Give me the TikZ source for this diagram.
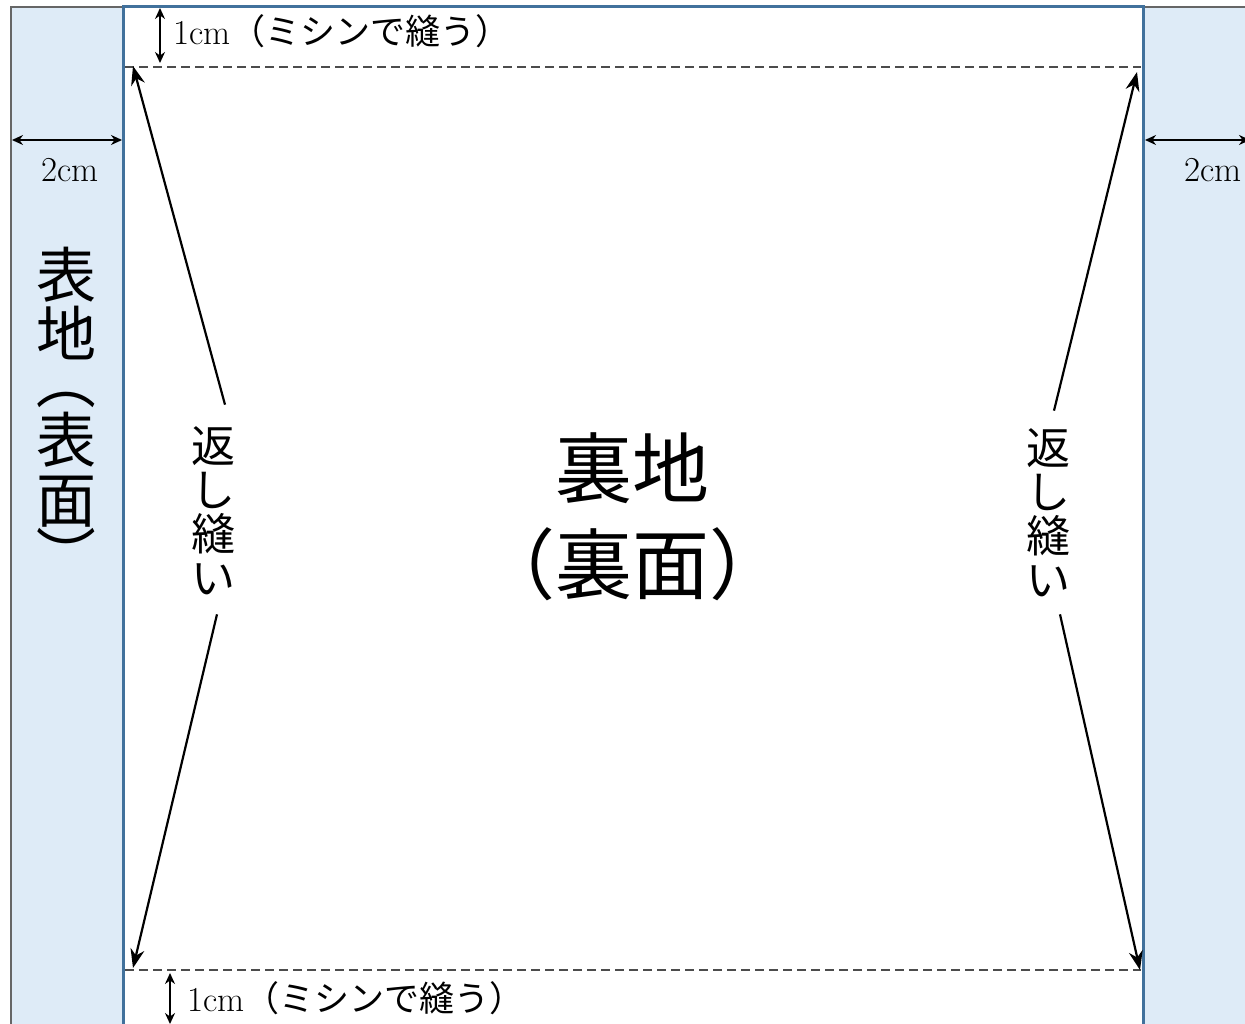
\documentclass[tikz,border=0pt]{standalone}
\usepackage{fontspec}
\newfontfamily\jpfont{Noto Sans CJK JP}
\usetikzlibrary{arrows.meta,positioning}
\definecolor{stripblue}{RGB}{222,235,247}
\definecolor{edgeblue}{RGB}{65,113,156}

\begin{document}
\begin{tikzpicture}[x=1pt,y=-1pt,
	dim/.style={{Stealth[length=11pt,width=10pt]}-{Stealth[length=11pt,width=10pt]},line width=1.8pt},
	seam/.style={-{Stealth[length=19pt,width=14pt]},line width=2.2pt},
	stitch/.style={dash pattern=on 9pt off 5pt,line width=1.2pt,black!70},
	note/.style={inner sep=0pt,font=\fontsize{35}{38}\selectfont},
	vtext/.style={inner sep=0pt,align=center},
	omote/.style={inner sep=0pt,font=\fontsize{60}{60}\selectfont\jpfont}]
	\useasboundingbox (0,0) rectangle (1245,1024);
	\clip (0,0) rectangle (1245,1024);

	\filldraw[fill=stripblue,draw=black!60,line width=1.2pt] (11,7) rectangle (123,1060);
	\filldraw[fill=stripblue,draw=black!60,line width=1.2pt] (1143,7) rectangle (1280,1060);
	\filldraw[fill=white,draw=edgeblue,line width=3pt] (123,7) rectangle (1143,1060);
	\draw[stitch] (125,67) -- (1141,67);
	\draw[stitch] (125,970) -- (1141,970);

	\node[omote] (omote1) at (66,275) {表};
	\node[omote] (omote2) at (66,333) {地};
	\node[omote,rotate=-90] (omote3) at (66,380) {（};
	\node[omote] (omote4) at (66,440) {表};
	\node[omote] (omote5) at (66,502) {面};
	\node[omote,rotate=-90] (omote6) at (66,555) {）};
	\node[vtext,font=\fontsize{44}{44}\selectfont\jpfont] (kaeshiL) at (213,511) {返\\し\\縫\\い};
	\node[vtext,font=\fontsize{44}{44}\selectfont\jpfont] (kaeshiR) at (1048,513) {返\\し\\縫\\い};
	\node[vtext,font=\fontsize{77}{96}\selectfont\jpfont] (ura) at (632,517) {裏地\\（裏面）};

	\node[note,anchor=base west] (topnote) at (173,45) {1cm{\jpfont （ミシンで縫う）}};
	\node[note,anchor=base west] (botnote) at (187,1011) {1cm{\jpfont （ミシンで縫う）}};
	\node[note] (cmL) at (70,170) {2cm};
	\node[note] (cmR) at (1213,170) {2cm};

	\coordinate (topA) at (160,8);
	\coordinate (topB) at (160,63);
	\coordinate (botA) at (170,973);
	\coordinate (botB) at (170,1024);
	\coordinate (leftA) at (12,140);
	\coordinate (leftB) at (122,140);
	\coordinate (rightA) at (1145,140);
	\coordinate (rightB) at (1250,140);
	\coordinate (cornerTL) at (133,66);
	\coordinate (cornerBL) at (133,968);
	\coordinate (cornerTR) at (1137,72);
	\coordinate (cornerBR) at (1140,970);

	\draw[dim] (topA) -- (topB);
	\draw[dim] (botA) -- (botB);
	\draw[dim] (leftA) -- (leftB);
	\draw[dim] (rightA) -- (rightB);

	\draw[seam] ([xshift=12pt,yshift=22pt]kaeshiL.north) -- (cornerTL);
	\draw[seam] ([xshift=4pt,yshift=-19pt]kaeshiL.south) -- (cornerBL);
	\draw[seam] ([xshift=6pt,yshift=18pt]kaeshiR.north) -- (cornerTR);
	\draw[seam] ([xshift=12pt,yshift=-17pt]kaeshiR.south) -- (cornerBR);
\end{tikzpicture}
\end{document}
